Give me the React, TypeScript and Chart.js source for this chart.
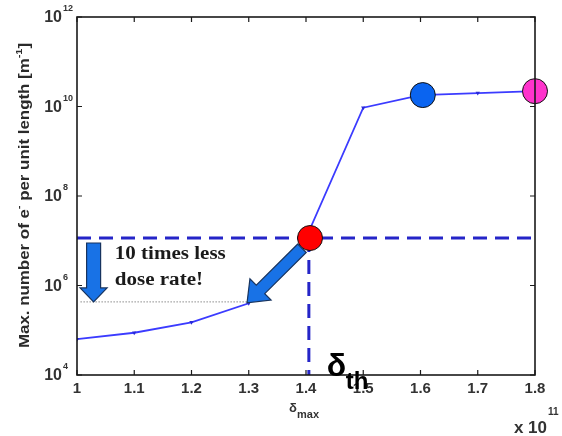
import { useEffect, useRef } from 'react';
import { Chart, registerables } from 'chart.js';

Chart.register(...registerables);

// ---- data ----
const deltaMax = [1.0, 1.1, 1.2, 1.3, 1.4, 1.5, 1.6, 1.7, 1.8];
const maxElectrons = [6.3e4, 8.8e4, 1.5e5, 4.0e5, 1.15e7, 9.4e9, 1.8e10, 2.0e10, 2.2e10];

const highlightX = [1.407, 1.604, 1.8];
const highlightY = [1.15e7, 1.8e10, 2.2e10];
const highlightColors = ['#ff0000', '#0a64f0', '#ff33cc'];

const thresholdX = 1.405;
const thresholdY = 1.15e7;
const reducedLevel = 4.3e5;
const reducedFromX = 1.006;
const reducedToX = 1.3;

// arrows: [startX, startY, tipX, tipY]
const downArrow = [1.029, 8.9e6, 1.029, 4.3e5];
const diagArrow = [1.393, 6.8e6, 1.297, 4.1e5];

const xTickValues = [1.0, 1.1, 1.2, 1.3, 1.4, 1.5, 1.6, 1.7, 1.8];
const xTickLabels = ['1', '1.1', '1.2', '1.3', '1.4', '1.5', '1.6', '1.7', '1.8'];
const yTickExponents = [4, 6, 8, 10, 12];

const xMin = 1.0;
const xMax = 1.8;
const yMin = 1e4;
const yMax = 1e12;

const annotationLines = ['10 times less', 'dose rate!'];

function drawArrow(ctx: CanvasRenderingContext2D, sx: number, sy: number, tx: number, ty: number, shaftW: number, headW: number, headL: number) {
  const dx = tx - sx;
  const dy = ty - sy;
  const len = Math.hypot(dx, dy);
  const ux = dx / len;
  const uy = dy / len;
  const px = -uy;
  const py = ux;
  const bx = tx - ux * headL;
  const by = ty - uy * headL;
  ctx.beginPath();
  ctx.moveTo(sx + px * shaftW / 2, sy + py * shaftW / 2);
  ctx.lineTo(bx + px * shaftW / 2, by + py * shaftW / 2);
  ctx.lineTo(bx + px * headW / 2, by + py * headW / 2);
  ctx.lineTo(tx, ty);
  ctx.lineTo(bx - px * headW / 2, by - py * headW / 2);
  ctx.lineTo(bx - px * shaftW / 2, by - py * shaftW / 2);
  ctx.lineTo(sx - px * shaftW / 2, sy - py * shaftW / 2);
  ctx.closePath();
  ctx.fillStyle = '#1872e6';
  ctx.fill();
  ctx.lineWidth = 1.2;
  ctx.strokeStyle = '#17335e';
  ctx.stroke();
}

function fillStretched(ctx: CanvasRenderingContext2D, text: string, x: number, y: number, targetW: number) {
  const w = ctx.measureText(text).width;
  const s = targetW / w;
  ctx.save();
  ctx.translate(x, y);
  ctx.scale(s, 1);
  ctx.fillText(text, 0, 0);
  ctx.restore();
}

const overlayPlugin = {
  id: 'overlay',
  afterDatasetsDraw(chart: any) {
    const ctx: CanvasRenderingContext2D = chart.ctx;
    const xs = chart.scales.x;
    const ys = chart.scales.y;
    ctx.save();
    drawArrow(ctx, xs.getPixelForValue(downArrow[0]), ys.getPixelForValue(downArrow[1]),
      xs.getPixelForValue(downArrow[2]), ys.getPixelForValue(downArrow[3]), 14, 27, 14);
    drawArrow(ctx, xs.getPixelForValue(diagArrow[0]), ys.getPixelForValue(diagArrow[1]),
      xs.getPixelForValue(diagArrow[2]), ys.getPixelForValue(diagArrow[3]), 12, 30, 19);
    ctx.restore();
  },
  afterDraw(chart: any) {
    const ctx: CanvasRenderingContext2D = chart.ctx;
    const xs = chart.scales.x;
    const ys = chart.scales.y;
    const { left, right, top, bottom } = chart.chartArea;
    ctx.save();

    // frame
    ctx.strokeStyle = '#1a1a1a';
    ctx.lineWidth = 1.6;
    ctx.strokeRect(left, top, right - left, bottom - top);

    // ticks (inward, all four sides)
    ctx.lineWidth = 1.2;
    ctx.beginPath();
    xTickValues.forEach((v) => {
      const px = xs.getPixelForValue(v);
      ctx.moveTo(px, bottom);
      ctx.lineTo(px, bottom - 5);
      ctx.moveTo(px, top);
      ctx.lineTo(px, top + 5);
    });
    yTickExponents.forEach((e) => {
      const py = ys.getPixelForValue(Math.pow(10, e));
      ctx.moveTo(left, py);
      ctx.lineTo(left + 5, py);
      ctx.moveTo(right, py);
      ctx.lineTo(right - 5, py);
    });
    ctx.stroke();

    // x tick labels
    ctx.fillStyle = '#333';
    ctx.font = 'bold 15px "Liberation Sans", Arial, sans-serif';
    ctx.textAlign = 'center';
    ctx.textBaseline = 'middle';
    xTickValues.forEach((v, i) => {
      ctx.fillText(xTickLabels[i], xs.getPixelForValue(v), bottom + 14);
    });

    // y tick labels 10^n
    yTickExponents.forEach((e) => {
      const py = ys.getPixelForValue(Math.pow(10, e));
      ctx.font = 'bold 16px "Liberation Sans", Arial, sans-serif';
      ctx.textAlign = 'right';
      ctx.textBaseline = 'middle';
      ctx.fillText('10', left - 15, py + 1);
      ctx.font = 'bold 9px "Liberation Sans", Arial, sans-serif';
      ctx.textAlign = 'left';
      ctx.fillText(String(e), left - 14, py - 8);
    });

    // x axis title δmax
    const midX = xs.getPixelForValue(1.4);
    ctx.textAlign = 'left';
    ctx.textBaseline = 'alphabetic';
    ctx.font = 'bold 13px "Liberation Sans", Arial, sans-serif';
    ctx.fillText('δ', midX - 17, bottom + 37);
    ctx.font = 'bold 11px "Liberation Sans", Arial, sans-serif';
    ctx.fillText('max', midX - 9, bottom + 43);

    // x 10^11
    ctx.font = 'bold 17px "Liberation Sans", Arial, sans-serif';
    ctx.textAlign = 'right';
    ctx.textBaseline = 'middle';
    ctx.fillText('x 10', right + 12, bottom + 53);
    ctx.font = 'bold 10px "Liberation Sans", Arial, sans-serif';
    ctx.textAlign = 'left';
    ctx.fillText('11', right + 13, bottom + 37);

    // y axis title with superscripts (stretched along its length)
    const segs: [string, boolean][] = [
      ['Max. number of e', false],
      ['-', true],
      [' per unit length [m', false],
      ['-1', true],
      [']', false],
    ];
    const normalFont = 'bold 14px "Liberation Sans", Arial, sans-serif';
    const supFont = 'bold 9px "Liberation Sans", Arial, sans-serif';
    let total = 0;
    segs.forEach(([t, sup]) => {
      ctx.font = sup ? supFont : normalFont;
      total += ctx.measureText(t).width;
    });
    const targetLen = 305;
    ctx.translate(25, 195.5);
    ctx.rotate(-Math.PI / 2);
    ctx.scale(targetLen / total, 1);
    ctx.fillStyle = '#2a2a2a';
    ctx.textAlign = 'left';
    ctx.textBaseline = 'middle';
    let cx = -total / 2;
    segs.forEach(([t, sup]) => {
      ctx.font = sup ? supFont : normalFont;
      ctx.fillText(t, cx, sup ? -5 : 0);
      cx += ctx.measureText(t).width;
    });
    ctx.setTransform(1, 0, 0, 1, 0, 0);

    // annotation text
    ctx.fillStyle = '#1a1a1a';
    ctx.font = 'bold 18px "Liberation Serif", "Times New Roman", serif';
    ctx.textAlign = 'left';
    ctx.textBaseline = 'alphabetic';
    const textX = xs.getPixelForValue(1.066);
    fillStretched(ctx, annotationLines[0], textX, 259, 111);
    fillStretched(ctx, annotationLines[1], textX, 285, 111 * (ctx.measureText(annotationLines[1]).width / ctx.measureText(annotationLines[0]).width));

    // δth
    const thX = xs.getPixelForValue(thresholdX);
    ctx.fillStyle = '#000';
    ctx.font = 'bold 32px "Liberation Sans", Arial, sans-serif';
    ctx.textBaseline = 'alphabetic';
    ctx.fillText('δ', thX + 18, bottom + 1);
    ctx.font = 'bold 24px "Liberation Sans", Arial, sans-serif';
    ctx.fillText('th', thX + 37, bottom + 14);

    ctx.restore();
  },
};

export default function App() {
  const canvasRef = useRef<HTMLCanvasElement | null>(null);

  useEffect(() => {
    if (!canvasRef.current) return;
    const chart = new Chart(canvasRef.current, {
      type: 'line',
      data: {
        datasets: [
          {
            label: 'highlights',
            type: 'scatter',
            data: highlightX.map((x, i) => ({ x, y: highlightY[i] })),
            pointRadius: 12.5,
            pointHoverRadius: 12.5,
            pointBackgroundColor: highlightColors,
            pointBorderColor: '#111',
            pointBorderWidth: 1,
            showLine: false,
            clip: false as any,
            order: 0,
          },
          {
            label: 'max electrons',
            data: deltaMax.map((x, i) => ({ x, y: maxElectrons[i] })),
            borderColor: '#3b3bff',
            backgroundColor: '#2a2ad8',
            borderWidth: 1.8,
            pointStyle: 'triangle',
            rotation: 180,
            pointRadius: 2.5,
            pointBorderWidth: 0,
            pointBackgroundColor: '#2a2ad8',
            tension: 0,
            order: 1,
          },
          {
            label: 'threshold h',
            data: [{ x: xMin, y: thresholdY }, { x: xMax, y: thresholdY }],
            borderColor: '#2525c8',
            borderWidth: 3,
            borderDash: [14, 8],
            pointRadius: 0,
            order: 2,
          },
          {
            label: 'threshold v',
            data: [{ x: thresholdX, y: thresholdY }, { x: thresholdX, y: yMin }],
            borderColor: '#2525c8',
            borderWidth: 3,
            borderDash: [14, 8],
            pointRadius: 0,
            order: 2,
          },
          {
            label: 'reduced',
            data: [{ x: reducedFromX, y: reducedLevel }, { x: reducedToX, y: reducedLevel }],
            borderColor: '#8a8a8a',
            borderWidth: 1,
            borderDash: [1.5, 1.5],
            pointRadius: 0,
            order: 3,
          },
        ],
      },
      options: {
        responsive: false,
        animation: false,
        events: [],
        layout: { padding: { left: 77, right: 27, top: 17, bottom: 61 } },
        plugins: { legend: { display: false }, tooltip: { enabled: false } },
        scales: {
          x: { type: 'linear', min: xMin, max: xMax, display: false },
          y: { type: 'logarithmic', min: yMin, max: yMax, display: false },
        },
      },
      plugins: [overlayPlugin],
    });
    return () => chart.destroy();
  }, []);

  return (
    <div style={{ position: 'absolute', left: 0, top: 0, width: 562, height: 436, background: '#fff' }}>
      <canvas ref={canvasRef} width={562} height={436} style={{ display: 'block' }} />
    </div>
  );
}
